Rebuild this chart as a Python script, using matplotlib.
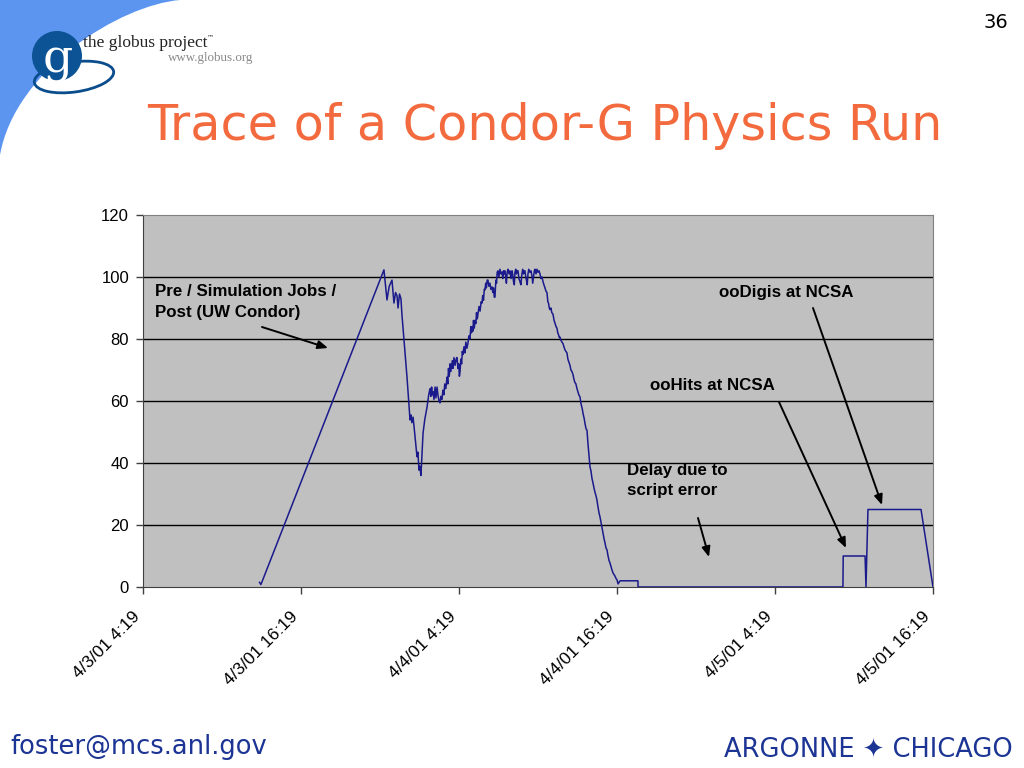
import matplotlib
matplotlib.use("Agg")
import matplotlib.pyplot as plt
import matplotlib.transforms as mtransforms
from matplotlib.patches import Circle, Ellipse, PathPatch
from matplotlib.path import Path

# ---------------- data ----------------
# hours since 4/3/01 4:19, running-job counts
hours_start = [8.85, 8.95, 9.05, 18.30]
jobs_start = [1.5, 0.8, 1.8, 102.3]

hours_dip = [18.53, 18.70, 18.91, 19.06, 19.18, 19.29, 19.37, 19.48, 19.59, 19.67, 20.05, 20.28,
             20.35, 20.42, 20.51, 20.58, 20.81, 20.88, 20.96, 21.03, 21.11, 21.27, 21.40, 21.57, 21.70]
jobs_dip = [92.6, 97.0, 99.0, 91.6, 95.0, 94.0, 90.0, 94.5, 93.0, 87.7, 67.7, 53.9,
            55.5, 53.0, 54.8, 52.0, 42.0, 43.5, 37.7, 39.0, 36.0, 49.7, 54.0, 58.0, 62.0]

hours_rise = [21.80, 21.86, 21.92, 21.98, 22.03, 22.10, 22.18, 22.25, 22.33, 22.40, 22.48, 22.56,
              22.62, 22.70, 22.78, 22.85, 22.92, 23.00, 23.09, 23.15, 23.20, 23.26, 23.32, 23.38,
              23.43, 23.49, 23.54, 23.62, 23.70, 23.78, 23.85, 23.92, 23.98, 24.03, 24.08, 24.14,
              24.20, 24.25, 24.30, 24.38, 24.45, 24.52, 24.60, 24.68, 24.75, 24.83, 24.90, 24.95,
              24.99, 25.05, 25.10, 25.16, 25.22, 25.28, 25.33, 25.39, 25.44, 25.52, 25.60, 25.68,
              25.75, 25.80, 25.86, 25.92, 25.97, 26.03, 26.08, 26.14, 26.20, 26.27, 26.35, 26.42,
              26.51, 26.57, 26.62, 26.68, 26.73, 26.80, 26.85, 26.90, 26.96]
jobs_rise = [64.0, 61.5, 64.5, 62.0, 63.0, 60.5, 64.5, 61.0, 64.5, 62.0, 60.0, 59.4,
             61.5, 60.5, 63.5, 62.0, 65.5, 64.0, 67.7, 65.5, 70.5, 68.0, 72.0, 69.5,
             71.0, 73.0, 70.5, 74.0, 71.5, 73.5, 74.0, 70.5, 72.0, 68.0, 69.5, 73.5,
             72.0, 76.0, 75.0, 77.5, 75.5, 79.0, 77.0, 78.7, 81.0, 80.0, 84.0, 82.0,
             84.0, 82.5, 86.0, 83.5, 86.0, 85.0, 88.5, 86.5, 88.0, 90.5, 89.0, 92.0,
             91.6, 94.0, 92.5, 96.0, 95.8, 98.0, 96.5, 99.0, 99.0, 97.0, 98.0, 96.0,
             96.8, 95.0, 96.5, 93.5, 93.5, 99.0, 98.0, 101.5, 102.0]

hours_top = [27.03, 27.11, 27.19, 27.27, 27.33, 27.38, 27.44, 27.49, 27.55, 27.60, 27.66, 27.72,
             27.80, 27.87, 27.95, 28.03, 28.09, 28.14, 28.20, 28.25, 28.31, 28.36, 28.42, 28.48,
             28.55, 28.63, 28.70, 28.78, 28.84, 28.90, 28.95, 29.01, 29.07, 29.12, 29.18, 29.24,
             29.30, 29.39, 29.46, 29.54, 29.60, 29.66, 29.72, 29.77, 29.85, 29.92, 30.00, 30.08, 30.15]
jobs_top = [100.0, 102.5, 101.0, 101.6, 99.5, 102.0, 101.0, 102.0, 100.0, 98.0, 101.5, 102.5,
            101.0, 102.0, 99.5, 102.0, 100.5, 98.5, 97.5, 101.5, 102.5, 101.0, 102.0, 102.0,
            99.5, 98.5, 97.5, 101.0, 102.5, 101.0, 102.0, 102.0, 100.0, 99.0, 97.5, 101.0,
            102.5, 101.5, 102.0, 100.5, 98.0, 100.0, 102.0, 102.5, 101.0, 102.5, 101.5, 102.0, 101.0]

hours_fall = [30.22, 30.30, 30.38, 30.45, 30.53, 30.60, 30.68, 30.75, 30.80, 30.86, 30.91, 30.98,
              31.05, 31.14, 31.22, 31.30, 31.37, 31.44, 31.50, 31.55, 31.62, 31.67, 31.75, 31.82,
              31.90, 31.97, 32.05, 32.12, 32.20, 32.27, 32.35, 32.43, 32.50, 32.58, 32.66, 32.73,
              32.80, 32.88, 32.96, 33.03, 33.10, 33.19, 33.25, 33.30, 33.36, 33.42, 33.50, 33.58,
              33.65, 33.72, 33.80, 33.88, 33.95, 34.02, 34.10, 34.18, 34.25, 34.33, 34.40, 34.48,
              34.55, 34.63, 34.71, 34.78, 34.86, 34.94, 35.02, 35.10, 35.17, 35.24, 35.32, 35.40,
              35.47, 35.55, 35.62, 35.70, 35.78, 35.85, 35.92, 36.00, 36.08]
jobs_fall = [99.5, 100.0, 98.5, 97.5, 96.5, 95.5, 95.0, 92.0, 91.5, 90.0, 89.5, 90.0,
             88.5, 88.0, 86.0, 85.0, 84.0, 83.5, 82.0, 81.5, 80.5, 80.6, 79.5, 79.0,
             78.5, 77.5, 76.5, 76.0, 75.5, 73.5, 72.5, 71.5, 70.0, 69.5, 68.5, 67.0,
             66.0, 65.5, 64.0, 63.0, 62.0, 61.3, 59.5, 58.5, 57.5, 56.0, 54.5, 52.5,
             51.0, 50.6, 46.0, 42.0, 38.7, 37.5, 35.0, 33.5, 32.0, 30.5, 29.5, 28.0,
             26.0, 24.0, 22.6, 21.0, 19.0, 17.4, 15.5, 14.0, 12.5, 12.0, 10.0, 8.5,
             7.7, 6.5, 5.5, 4.5, 4.0, 3.5, 2.8, 2.3, 1.0]

hours_ncsa = [36.23, 37.59, 37.60, 53.16, 53.18, 54.84, 54.91, 55.06, 59.09, 60.00]
jobs_ncsa = [2.0, 2.0, 0.0, 0.0, 10.0, 10.0, 0.0, 25.0, 25.0, 0.0]

tick_hours = [0, 12, 24, 36, 48, 60]
tick_labels = ["4/3/01 4:19", "4/3/01 16:19", "4/4/01 4:19", "4/4/01 16:19",
               "4/5/01 4:19", "4/5/01 16:19"]
y_ticks = [0, 20, 40, 60, 80, 100, 120]

hours = hours_start + hours_dip + hours_rise + hours_top + hours_fall + hours_ncsa
jobs = jobs_start + jobs_dip + jobs_rise + jobs_top + jobs_fall + jobs_ncsa

# ---------------- figure ----------------
fig = plt.figure(figsize=(10.24, 7.68), dpi=100)
fig.patch.set_facecolor("white")

W, H = 1024.0, 768.0
def fx(px): return px / W
def fy(py): return 1 - py / H

# pixel coordinates (origin top-left, y downward)
pix = mtransforms.Affine2D().scale(1.0 / W, -1.0 / H).translate(0, 1) + fig.transFigure

# blue swoosh top-left
verts = [(0, 0), (180, 0), (120, 5), (15, 70), (0, 155), (0, 0)]
codes = [Path.MOVETO, Path.LINETO, Path.CURVE4, Path.CURVE4, Path.CURVE4, Path.CLOSEPOLY]
fig.patches.append(PathPatch(Path(verts, codes), transform=pix,
                             facecolor="#5b95f0", edgecolor="none", zorder=0))

# logo
fig.patches.append(Ellipse((74, 77), 80, 30, angle=-8, transform=pix, facecolor="none",
                           edgecolor="#0b4d8c", linewidth=2, zorder=1))
fig.patches.append(Circle((57, 56), 25, transform=pix,
                          facecolor="#0b5394", edgecolor="none", zorder=2))
fig.text(fx(58), fy(60), "g", color="white", fontsize=34, family="DejaVu Serif",
         ha="center", va="center", zorder=3)
fig.text(fx(83), fy(47), "the globus project", color="#222222", fontsize=12.5,
         family="Liberation Serif", ha="left", va="baseline")
fig.text(fx(207), fy(39), "™", color="#222222", fontsize=5, family="DejaVu Sans",
         ha="left", va="baseline")
fig.text(fx(168), fy(61), "www.globus.org", color="#888888", fontsize=9.4,
         family="Liberation Serif", ha="left", va="baseline")

fig.text(fx(1008), fy(22), "36", color="black", fontsize=14, family="DejaVu Sans",
         ha="right", va="center")

fig.text(fx(545), fy(126), "Trace of a Condor-G Physics Run", color="#f26a3d",
         fontsize=35.5, family="DejaVu Sans", ha="center", va="center")

fig.text(fx(10), fy(747), "foster@mcs.anl.gov", color="#1c3494", fontsize=18.5,
         family="DejaVu Sans", ha="left", va="center")
fig.text(fx(1013), fy(749), "ARGONNE ✦ CHICAGO", color="#1c3494", fontsize=18.5,
         family="DejaVu Sans", ha="right", va="center")

# ---------------- axes ----------------
ax = fig.add_axes([fx(143), fy(587), (933 - 143) / W, (587 - 215) / H])
ax.set_facecolor("#c0c0c0")
ax.plot(hours, jobs, color="#1a1a8c", linewidth=1.1, zorder=3)
ax.set_xlim(0, 60)
ax.set_ylim(0, 120)
ax.set_yticks(y_ticks)
ax.set_yticklabels([str(v) for v in y_ticks], fontsize=12, family="Liberation Sans")
ax.set_xticks(tick_hours)
ax.set_xticklabels(tick_labels, rotation=45, ha="right", va="top",
                   rotation_mode="anchor", fontsize=12.5, family="Liberation Sans")
ax.tick_params(axis="both", direction="out", length=5, width=1, color="#404040")
ax.tick_params(axis="x", pad=11)
ax.tick_params(axis="y", pad=5)
shift = mtransforms.ScaledTranslation(-11 / 100.0, 0, fig.dpi_scale_trans)
for lbl in ax.get_xticklabels():
    lbl.set_transform(lbl.get_transform() + shift)
for yv in y_ticks[1:-1]:
    ax.axhline(yv, color="black", linewidth=1, zorder=1)
for s in ["top", "right"]:
    ax.spines[s].set_color("#808080")
for s in ["left", "bottom"]:
    ax.spines[s].set_color("#404040")

def hx(px): return (px - 143) / 13.1667
def vy(py): return (587 - py) / 3.1

afont = dict(fontsize=12.2, family="Liberation Sans", fontweight="bold", color="black",
             ha="left", va="center", zorder=5)
ax.text(hx(155), vy(291), "Pre / Simulation Jobs /", **afont)
ax.text(hx(155), vy(312), "Post (UW Condor)", **afont)
ax.text(hx(719), vy(292), "ooDigis at NCSA", **afont)
ax.text(hx(650), vy(385), "ooHits at NCSA", **afont)
ax.text(hx(627), vy(470), "Delay due to", **afont)
ax.text(hx(627), vy(491), "script error", **afont)

arrows = [((262, 327), (328, 348)), ((813, 308), (882, 505)),
          ((779, 402), (846, 548)), ((698, 518), (709, 557))]
for (x0, y0), (x1, y1) in arrows:
    ax.annotate("", xy=(hx(x1), vy(y1)), xytext=(hx(x0), vy(y0)),
                arrowprops=dict(arrowstyle="-|>,head_length=0.6,head_width=0.25",
                                color="black", lw=1.4, shrinkA=0, shrinkB=0),
                zorder=5)

fig.savefig("out.png", dpi=100)
